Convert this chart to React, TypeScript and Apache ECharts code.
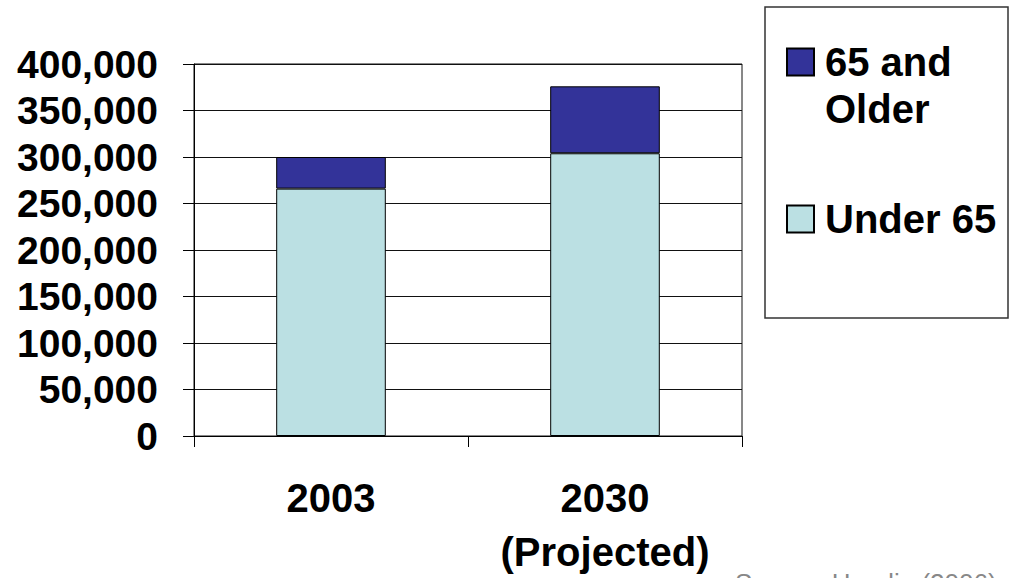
import React, { useEffect, useRef } from "react";
import * as echarts from "echarts";

const categories = ["2003", "2030\n(Projected)"];
const under65 = [266000, 304000];
const older65 = [34000, 72000];
const seriesNames = ["Under 65", "65 and Older"];
const legendLabels: Record<string, string> = {
  "65 and Older": "\n65 and\nOlder",
  "Under 65": "Under 65",
};
const sourceNote = "Source: Hendin (2006)";

const FONT = "'Liberation Sans', Arial, sans-serif";

export default function App() {
  const ref = useRef<HTMLDivElement>(null);
  useEffect(() => {
    if (!ref.current) return;
    const chart = echarts.init(ref.current, undefined, { renderer: "svg" });
    chart.setOption({
      animation: false,
      backgroundColor: "#ffffff",
      grid: {
        left: 194,
        right: 267,
        top: 64,
        bottom: 142,
        containLabel: false,
        outerBoundsMode: "none",
        show: true,
        borderColor: "#111",
        borderWidth: 1,
        backgroundColor: "transparent",
      },
      legend: {
        orient: "vertical",
        left: 786,
        top: -8.5,
        padding: 0,
        itemWidth: 27,
        itemHeight: 27,
        itemGap: 63,
        icon: "rect",
        formatter: (name: string) => legendLabels[name] ?? name,
        textStyle: {
          fontFamily: FONT,
          fontWeight: "bold",
          fontSize: 40,
          lineHeight: 47,
          color: "#000",
          padding: [0, 0, 0, 6],
        },
        data: ["65 and Older", "Under 65"],
      },
      xAxis: {
        type: "category",
        data: categories,
        axisLine: { show: true, lineStyle: { color: "#000", width: 1 } },
        axisTick: {
          show: true,
          alignWithLabel: false,
          length: 11,
          lineStyle: { color: "#000", width: 1 },
        },
        axisLabel: {
          fontFamily: FONT,
          fontWeight: "bold",
          fontSize: 40,
          lineHeight: 54,
          color: "#000",
          margin: 35,
        },
      },
      yAxis: {
        type: "value",
        min: 0,
        max: 400000,
        interval: 50000,
        axisLine: { show: true, lineStyle: { color: "#000", width: 1 } },
        axisTick: { show: true, length: 11, lineStyle: { color: "#000" } },
        splitLine: { show: true, lineStyle: { color: "#111", width: 1 } },
        axisLabel: {
          fontFamily: FONT,
          fontWeight: "bold",
          fontSize: 39,
          color: "#000",
          margin: 36,
          formatter: (v: number) => v.toLocaleString("en-US"),
        },
      },
      series: [
        {
          name: seriesNames[0],
          type: "bar",
          stack: "total",
          barWidth: "40%",
          data: under65,
          itemStyle: { color: "#BBE0E3", borderColor: "#000", borderWidth: 1 },
        },
        {
          name: seriesNames[1],
          type: "bar",
          stack: "total",
          barWidth: "40%",
          data: older65,
          itemStyle: { color: "#333399", borderColor: "#000", borderWidth: 1 },
        },
      ],
      graphic: [
        {
          type: "rect",
          shape: { x: 765, y: 7, width: 243, height: 311 },
          style: { fill: "none", stroke: "#333", lineWidth: 1.5 },
          silent: true,
        },
        {
          type: "text",
          x: 735,
          y: 583,
          style: {
            text: sourceNote,
            font: `26px ${FONT}`,
            fill: "#888",
            verticalAlign: "middle",
            align: "left",
          },
          silent: true,
        },
      ],
    });
    return () => chart.dispose();
  }, []);
  return (
    <div
      ref={ref}
      style={{ position: "fixed", left: 0, top: 0, width: 1009, height: 578 }}
    />
  );
}
